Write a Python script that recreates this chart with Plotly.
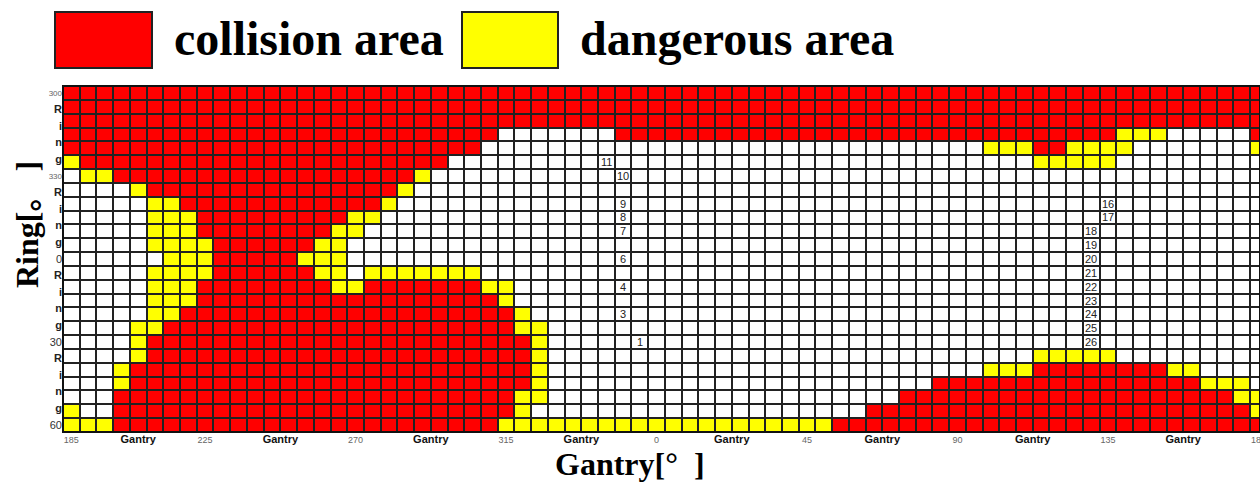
import plotly.graph_objects as go

# ---------------- data ----------------
# cell states: W = free, Y = dangerous area, R = collision area
# each ring row (top to bottom) as runs of (state, number of gantry columns); 72 columns
row_runs = [
    [("R", 72)],
    [("R", 72)],
    [("R", 72)],
    [("R", 26), ("W", 7), ("R", 30), ("Y", 3), ("W", 5), ("R", 1)],
    [("R", 25), ("W", 30), ("Y", 3), ("R", 2), ("Y", 4), ("W", 7), ("Y", 1)],
    [("Y", 1), ("R", 22), ("W", 35), ("Y", 5), ("W", 9)],
    [("W", 1), ("Y", 2), ("R", 18), ("Y", 1), ("W", 50)],
    [("W", 4), ("Y", 1), ("R", 15), ("Y", 1), ("W", 51)],
    [("W", 5), ("Y", 2), ("R", 12), ("Y", 1), ("W", 52)],
    [("W", 5), ("Y", 3), ("R", 9), ("Y", 2), ("W", 53)],
    [("W", 5), ("Y", 3), ("R", 8), ("Y", 2), ("W", 54)],
    [("W", 5), ("Y", 4), ("R", 6), ("Y", 2), ("W", 55)],
    [("W", 6), ("Y", 3), ("R", 5), ("Y", 3), ("W", 55)],
    [("W", 5), ("Y", 4), ("R", 6), ("Y", 2), ("W", 1), ("Y", 7), ("W", 47)],
    [("W", 5), ("Y", 3), ("R", 8), ("Y", 2), ("R", 7), ("Y", 2), ("W", 45)],
    [("W", 5), ("Y", 3), ("R", 18), ("Y", 1), ("W", 45)],
    [("W", 5), ("Y", 2), ("R", 20), ("Y", 1), ("W", 44)],
    [("W", 4), ("Y", 2), ("R", 21), ("Y", 2), ("W", 43)],
    [("W", 4), ("Y", 1), ("R", 23), ("Y", 1), ("W", 43)],
    [("W", 4), ("Y", 1), ("R", 23), ("Y", 1), ("W", 29), ("Y", 5), ("W", 9)],
    [("W", 3), ("Y", 1), ("R", 24), ("Y", 1), ("W", 26), ("Y", 3), ("R", 8), ("Y", 2), ("W", 4)],
    [("W", 3), ("Y", 1), ("R", 24), ("Y", 1), ("W", 23), ("R", 16), ("Y", 3), ("W", 1)],
    [("W", 3), ("R", 24), ("Y", 2), ("W", 21), ("R", 20), ("Y", 2)],
    [("Y", 1), ("W", 2), ("R", 24), ("Y", 1), ("W", 20), ("R", 23), ("Y", 1)],
    [("Y", 3), ("R", 23), ("Y", 20), ("R", 26)],
]
state_value = {"W": 0, "Y": 1, "R": 2}

# x tick labels (gantry) and their column positions
x_tick_text = ["185", "Gantry", "225", "Gantry", "270", "Gantry", "315", "Gantry", "0",
               "Gantry", "45", "Gantry", "90", "Gantry", "135", "Gantry", "180"]
x_tick_pos = [0, 4, 8, 12.5, 17, 21.5, 26, 30.5, 35, 39.5, 44, 48.5, 53, 57.5, 62, 66.5, 71]

# y tick labels (ring)
y_tick_text = ["300", "R", "i", "n", "g", "330", "R", "i", "n", "g", "0",
               "R", "i", "n", "g", "30", "R", "i", "n", "g", "60"]

# numbered cells
num_labels = ["11", "10", "9", "8", "7", "6", "4", "3", "1",
              "16", "17", "18", "19", "20", "21", "22", "23", "24", "25", "26"]
num_cols = [32, 33, 33, 33, 33, 33, 33, 33, 34,
            62, 62, 61, 61, 61, 61, 61, 61, 61, 61, 61]
num_rows = [5, 6, 8, 9, 10, 12, 14, 16, 18,
            8, 9, 10, 11, 12, 13, 14, 15, 16, 17, 18]

legend_names = ["collision area", "dangerous area"]
legend_colors = ["#FF0000", "#FFFF00"]

# ---------------- build ----------------
z = [[state_value[s] for s, n in runs for _ in range(n)] for runs in row_runs]
n_rows = len(z)
n_cols = len(z[0])

W, H = 1260, 482
ML, MR, MT, MB = 63, 0, 86, 50
PW, PH = W - ML - MR, H - MT - MB
cell_w = 16.72


def px_x(px):
    return (px - ML) / PW


def px_y(py):
    return (H - MB - py) / PH


fig = go.Figure()
fig.add_trace(go.Heatmap(
    z=z,
    x=list(range(n_cols)),
    y=list(range(n_rows)),
    zmin=0, zmax=2,
    colorscale=[[0, "#FFFFFF"], [0.33, "#FFFFFF"], [0.33, "#FFFF00"], [0.67, "#FFFF00"],
                [0.67, "#FF0000"], [1, "#FF0000"]],
    showscale=False,
    xgap=2, ygap=2,
    hoverinfo="skip",
))


def style_x(t):
    if t == "Gantry":
        return "<b><span style='font-size:11px;color:#111'>Gantry</span></b>"
    return "<span style='font-size:9px;color:#666'>%s</span>" % t


def style_y(t):
    if t in ("R", "i", "n", "g"):
        return "<b><span style='font-size:11px;color:#222'>%s</span></b>" % t
    if t in ("300", "330"):
        return "<span style='font-size:8px;color:#666'>%s</span>" % t
    return "<span style='font-size:11px;color:#333'>%s</span>" % t


fig.update_xaxes(
    range=[-0.5, -0.5 + PW / cell_w],
    tickmode="array", tickvals=x_tick_pos, ticktext=[style_x(t) for t in x_tick_text],
    tickangle=0, showgrid=False, zeroline=False, ticks="", showline=False,
    tickfont=dict(family="Liberation Sans, Arial", size=10, color="#333"),
    automargin=False, ticklabeloverflow="allow",
)
fig.update_yaxes(
    range=[n_rows - 0.5, -0.5],
    tickmode="array",
    tickvals=[i * (n_rows - 1) / (len(y_tick_text) - 1) for i in range(len(y_tick_text))],
    ticktext=[style_y(t) for t in y_tick_text],
    showgrid=False, zeroline=False, ticks="", showline=False,
    tickfont=dict(family="Liberation Sans, Arial", size=10, color="#333"),
    automargin=False,
)

annotations = []
for t, c, r in zip(num_labels, num_cols, num_rows):
    annotations.append(dict(x=c, y=r, xref="x", yref="y", text=t, showarrow=False,
                            xanchor="center", yanchor="middle",
                            font=dict(family="Liberation Sans, Arial", size=11, color="#222")))

# axis titles
annotations.append(dict(x=px_x(27), y=px_y(225), xref="paper", yref="paper",
                        xanchor="center", yanchor="middle",
                        text="<b>Ring[。 ]</b>", textangle=-90, showarrow=False,
                        font=dict(family="Liberation Serif, Noto Sans CJK SC", size=32, color="#000")))
annotations.append(dict(x=px_x(630), y=px_y(464), xref="paper", yref="paper",
                        xanchor="center", yanchor="middle",
                        text="<b>Gantry[°  ]</b>", showarrow=False,
                        font=dict(family="Liberation Serif, Noto Sans CJK SC", size=32, color="#000")))

# legend (boxes + text)
shapes = []
legend_box_x = [(55, 152), (462, 558)]
legend_text_x = [172, 578]
for (x0, x1), name, col, tx in zip(legend_box_x, legend_names, legend_colors, legend_text_x):
    shapes.append(dict(type="rect", xref="paper", yref="paper",
                       x0=px_x(x0), x1=px_x(x1), y0=px_y(68), y1=px_y(12),
                       fillcolor=col, line=dict(color="#222", width=2)))
    annotations.append(dict(x=px_x(tx), y=px_y(38), xref="paper", yref="paper",
                            xanchor="left", yanchor="middle", text="<b>%s</b>" % name,
                            showarrow=False,
                            font=dict(family="Liberation Serif", size=48, color="#000")))

# outer frame of grid
shapes.append(dict(type="rect", xref="paper", yref="paper", x0=0, x1=1, y0=0, y1=1,
                   line=dict(color="#111", width=2), fillcolor="rgba(0,0,0,0)"))

fig.update_layout(
    width=W, height=H, autosize=False,
    margin=dict(l=ML, r=MR, t=MT, b=MB, pad=0),
    plot_bgcolor="#222", paper_bgcolor="#FFFFFF",
    annotations=annotations, shapes=shapes,
    showlegend=False,
)

fig.write_html("out.html", config={"displayModeBar": False},
               post_script="document.body.style.margin='0';document.body.style.overflow='hidden';")
